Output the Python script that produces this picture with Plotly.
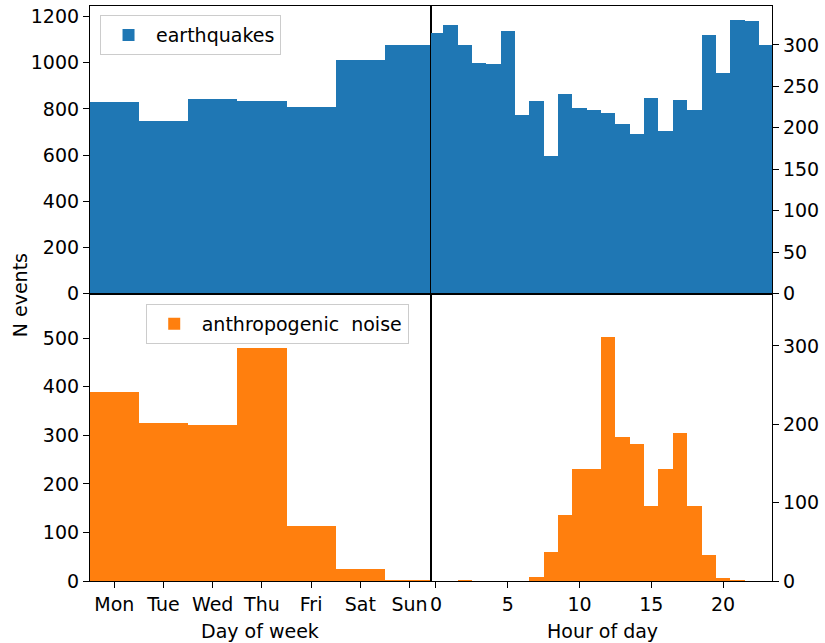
import plotly.graph_objects as go

days = ["Mon", "Tue", "Wed", "Thu", "Fri", "Sat", "Sun"]
day_idx = list(range(7))
hours = list(range(24))
hour_ticks = [0, 5, 10, 15, 20]

eq_day = [828, 747, 843, 834, 808, 1012, 1077]
eq_hour = [314, 324, 300, 278, 277, 317, 215, 232, 166, 241, 224, 221,
           218, 204, 192, 236, 196, 234, 221, 312, 266, 330, 329, 300]
noise_day = [391, 327, 322, 481, 114, 25, 3]
noise_hour = [0, 0, 2, 0, 0, 0, 0, 6, 38, 85, 143, 143,
              312, 185, 176, 97, 143, 190, 97, 34, 5, 2, 0, 0]

BLUE = "#1f77b4"
ORANGE = "#ff7f0e"
FONT = "DejaVu Sans"
FS = 19

fig = go.Figure()
fig.add_trace(go.Bar(x=day_idx, y=eq_day, width=1, marker=dict(color=BLUE, line_width=0),
                     name="earthquakes", xaxis="x", yaxis="y", legend="legend", showlegend=True))
fig.add_trace(go.Bar(x=hours, y=eq_hour, width=1, marker=dict(color=BLUE, line_width=0),
                     name="earthquakes", xaxis="x2", yaxis="y2", showlegend=False))
fig.add_trace(go.Bar(x=day_idx, y=noise_day, width=1, marker=dict(color=ORANGE, line_width=0),
                     name="anthropogenic  noise", xaxis="x3", yaxis="y3", legend="legend2", showlegend=True))
fig.add_trace(go.Bar(x=hours, y=noise_hour, width=1, marker=dict(color=ORANGE, line_width=0),
                     name="anthropogenic noise", xaxis="x4", yaxis="y4", showlegend=False))

axis_common = dict(showline=True, linecolor="black", linewidth=1.2, mirror=True,
                   showgrid=False, zeroline=False, ticks="outside", ticklen=6,
                   tickwidth=1.2, tickcolor="black",
                   tickfont=dict(family=FONT, size=FS, color="black"))

day_range = [-0.494, 6.437]
hour_range = [-0.348, 23.41]

legend_common = dict(xanchor="left", yanchor="top", itemwidth=45,
                     bgcolor="rgba(255,255,255,0.8)", bordercolor="#cccccc", borderwidth=1,
                     font=dict(family=FONT, size=FS, color="black"))

fig.update_layout(
    width=825, height=643,
    margin=dict(l=90, r=53, t=6, b=62),
    paper_bgcolor="white", plot_bgcolor="white",
    bargap=0, barmode="overlay",
    font=dict(family=FONT, size=FS, color="black"),
    xaxis=dict(axis_common, domain=[0, 0.5], range=day_range, anchor="y",
               showticklabels=False, ticks=""),
    yaxis=dict(axis_common, domain=[0.5, 1], range=[0, 1246], dtick=200, anchor="x"),
    xaxis2=dict(axis_common, domain=[0.5, 1], range=hour_range, anchor="y2",
                showticklabels=False, ticks=""),
    yaxis2=dict(axis_common, domain=[0.5, 1], range=[0, 347], dtick=50, anchor="x2",
                side="right"),
    xaxis3=dict(axis_common, domain=[0, 0.5], range=day_range, anchor="y3",
                tickmode="array", tickvals=day_idx, ticktext=days),
    yaxis3=dict(axis_common, domain=[0, 0.5], range=[0, 592], dtick=100, anchor="x3"),
    xaxis4=dict(axis_common, domain=[0.5, 1], range=hour_range, anchor="y4",
                tickmode="array", tickvals=hour_ticks),
    yaxis4=dict(axis_common, domain=[0, 0.5], range=[0, 367], dtick=100, anchor="x4",
                side="right"),
    legend=dict(legend_common, x=0.0147, y=0.984),
    legend2=dict(legend_common, x=0.0817, y=0.4817),
    annotations=[
        dict(text="N events", xref="paper", yref="paper", x=-0.1026, y=0.497,
             textangle=-90, showarrow=False, xanchor="center", yanchor="middle",
             font=dict(family=FONT, size=FS, color="black")),
        dict(text="Day of week", xref="paper", yref="paper", x=(260 - 90) / 682,
             y=(581 - 631) / 575, showarrow=False, xanchor="center", yanchor="middle",
             font=dict(family=FONT, size=FS, color="black")),
        dict(text="Hour of day", xref="paper", yref="paper", x=(602 - 90) / 682,
             y=(581 - 631) / 575, showarrow=False, xanchor="center", yanchor="middle",
             font=dict(family=FONT, size=FS, color="black")),
    ],
)

fig.write_html("out.html", config={"displayModeBar": False},
               post_script="document.body.style.margin='0px';document.body.style.padding='0px';")
